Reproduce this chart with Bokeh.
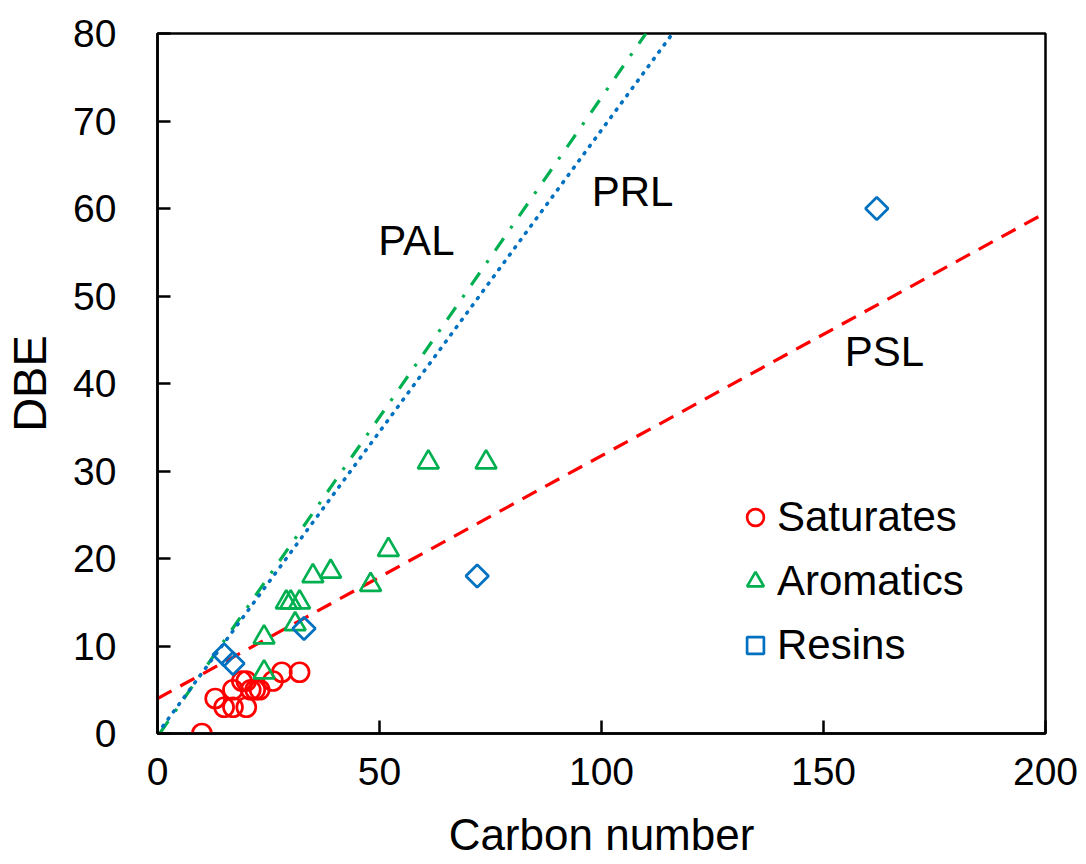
import numpy as np
from bokeh.plotting import figure
from bokeh.models import Legend, LegendItem, ColumnDataSource, FixedTicker, Range1d
from bokeh.core.properties import value
from bokeh.embed import file_html
from bokeh.resources import INLINE

# ---- data ----
sat_x = [10, 13, 15, 17, 17, 19, 20, 20, 21, 22, 23, 26, 28, 32]
sat_y = [0, 4, 3, 3, 5, 6, 6, 3, 5, 5, 5, 6, 7, 7]

aro_x = [24, 24, 29, 30, 31, 32, 35, 39, 48, 52, 61, 74]
aro_y = [7, 11, 15, 15, 12.5, 15, 18, 18.5, 17, 21, 31, 31]

res_x = [15, 17, 33, 72, 162]
res_y = [9, 8, 12, 18, 60]

psl_x = [0, 200]
psl_y = [4, 59.5]
prl_x = [0, 116]
prl_y = [0, 80]
pal_x = [0.5, 110]
pal_y = [0, 80]

label_text = ["PAL", "PRL", "PSL"]
label_x = [58.3, 107, 163.7]
label_y = [56.3, 61.9, 43.7]

x_ticks = [0, 50, 100, 150, 200]
y_ticks = [0, 10, 20, 30, 40, 50, 60, 70, 80]

RED = "#FF0000"
GREEN = "#00B050"
BLUE = "#0070C0"
FONT = "Liberation Sans"

p = figure(frame_width=888, frame_height=700,
           min_border_left=157, min_border_right=33,
           min_border_top=33, min_border_bottom=131,
           x_range=Range1d(0, 200), y_range=Range1d(0, 80),
           output_backend="svg", toolbar_location=None)

p.xgrid.visible = False
p.ygrid.visible = False
p.outline_line_color = "black"
p.outline_line_width = 2.5
p.background_fill_color = "white"
p.border_fill_color = "white"

for ax in (p.xaxis[0], p.yaxis[0]):
    ax.axis_line_width = 2.5
    ax.axis_line_color = "black"
    ax.major_tick_in = 13
    ax.major_tick_out = 0
    ax.major_tick_line_width = 2.5
    ax.minor_tick_line_color = None
    ax.major_label_text_font = FONT
    ax.major_label_text_font_size = "39px"
    ax.major_label_text_color = "black"
    ax.axis_label_text_font = FONT
    ax.axis_label_text_font_style = "normal"
    ax.axis_label_text_color = "black"

p.xaxis[0].axis_label_text_font_size = "44px"
p.yaxis[0].axis_label_text_font_size = "47px"
p.xaxis[0].ticker = FixedTicker(ticks=x_ticks)
p.yaxis[0].ticker = FixedTicker(ticks=y_ticks)
p.xaxis[0].axis_label = "Carbon number"
p.yaxis[0].axis_label = "DBE"
p.xaxis[0].major_label_standoff = 24
p.yaxis[0].major_label_standoff = 41
p.xaxis[0].axis_label_standoff = 22
p.yaxis[0].axis_label_standoff = 14

# lines
p.line(psl_x, psl_y, line_color=RED, line_width=3.2, line_dash="16 10")
p.line(pal_x, pal_y, line_color=GREEN, line_width=3.2, line_dash="15 12 3 12")
p.line(prl_x, prl_y, line_color=BLUE, line_width=3.6, line_dash="1 8", line_cap="round")

# points
r_sat = p.scatter(sat_x, sat_y, marker="circle", size=19, fill_color="white",
                  fill_alpha=0, line_color=RED, line_width=2.7)
r_aro = p.scatter(aro_x, aro_y, marker="triangle", size=21, fill_color="white",
                  fill_alpha=0, line_color=GREEN, line_width=2.7)
r_res = p.scatter(res_x, res_y, marker="square", size=16, angle=np.pi / 4,
                  fill_color="white", fill_alpha=0, line_color=BLUE, line_width=2.7)

# labels
src = ColumnDataSource(dict(x=label_x, y=label_y, t=label_text))
p.text(x="x", y="y", text="t", source=src, text_font=value(FONT),
       text_font_size="42px", text_color="black", text_align="center",
       text_baseline="middle")

legend = Legend(items=[LegendItem(label="Saturates", renderers=[r_sat]),
                       LegendItem(label="Aromatics", renderers=[r_aro]),
                       LegendItem(label="Resins", renderers=[r_res])],
                location=(577, 64))
legend.glyph_width = 42
legend.glyph_height = 42
legend.label_standoff = 1
legend.spacing = 16
legend.padding = 0
legend.margin = 0
legend.border_line_color = None
legend.background_fill_alpha = 0
legend.label_text_font = FONT
legend.label_text_font_size = "42px"
legend.label_text_color = "black"
p.add_layout(legend)

open("out.html", "w").write(file_html(p, INLINE))
